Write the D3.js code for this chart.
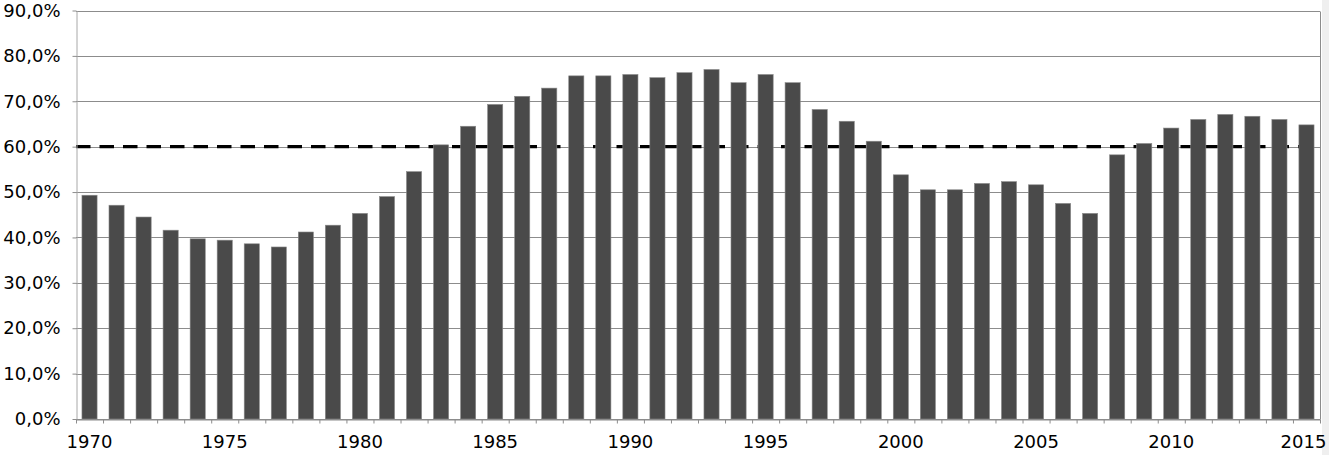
<!DOCTYPE html>
<html>
<head>
<meta charset="utf-8">
<script src="https://cdn.jsdelivr.net/npm/d3@7"></script>
<style>
  html, body { margin: 0; padding: 0; background: #ffffff; }
  svg { display: block; }
  text { font-family: "DejaVu Sans", Verdana, sans-serif; }
</style>
</head>
<body>
<div id="chart"></div>
<script>
const years = d3.range(1970, 2016);
const values = [
  49.3, 47.1, 44.5, 41.6, 39.7, 39.4, 38.6, 37.9, 41.2, 42.7,
  45.3, 49.0, 54.5, 60.4, 64.5, 69.3, 71.1, 72.9, 75.6, 75.6,
  75.9, 75.2, 76.3, 77.0, 74.1, 75.9, 74.1, 68.2, 65.6, 61.2,
  53.8, 50.5, 50.5, 51.9, 52.3, 51.6, 47.5, 45.3, 58.2, 60.7,
  64.1, 66.0, 67.1, 66.7, 66.0, 64.8
];
const yTicks = [0, 10, 20, 30, 40, 50, 60, 70, 80, 90];
const xLabelYears = [1970, 1975, 1980, 1985, 1990, 1995, 2000, 2005, 2010, 2015];
const referenceLevel = [60];

const W = 1329, H = 455;
const mLeft = 76, mRight = 1320, mTop = 10.5, mBottom = 419;
const FS = 18;

const svg = d3.select("#chart").append("svg")
  .attr("width", W).attr("height", H);

// light grey strip on the right edge
svg.append("rect").attr("x", 1322).attr("y", 0).attr("width", 7).attr("height", H)
  .attr("fill", "#efefef");

const x = d3.scaleBand().domain(years).range([mLeft, mRight])
  .paddingInner(0.44).paddingOuter(0.22);
const xIdx = d3.scaleLinear().domain([0, years.length]).range([mLeft, mRight]);
const y = d3.scaleLinear().domain([0, 90]).range([mBottom, mTop]);

// gridlines
svg.append("g").selectAll("line").data(yTicks).join("line")
  .attr("x1", mLeft).attr("x2", mRight)
  .attr("y1", d => Math.round(y(d)) + 0.5).attr("y2", d => Math.round(y(d)) + 0.5)
  .attr("stroke", "#8c8c8c").attr("stroke-width", 1);

// right border
svg.append("line").attr("x1", mRight + 0.5).attr("x2", mRight + 0.5)
  .attr("y1", Math.round(y(90)) + 0.5).attr("y2", mBottom + 0.5)
  .attr("stroke", "#8c8c8c");

// dashed reference line (behind bars)
svg.append("g").selectAll("line").data(referenceLevel).join("line")
  .attr("x1", mLeft).attr("x2", mRight)
  .attr("y1", d => y(d)).attr("y2", d => y(d))
  .attr("stroke", "#000").attr("stroke-width", 3.2)
  .attr("stroke-dasharray", "14.5,9");

// bars
svg.append("g").selectAll("rect").data(years).join("rect")
  .attr("x", d => x(d))
  .attr("width", x.bandwidth())
  .attr("y", (d, i) => y(values[i]))
  .attr("height", (d, i) => y(0) - y(values[i]))
  .attr("fill", "#4a4a4a")
  .attr("stroke", "#8a8a8a").attr("stroke-width", 0.6);

// y axis
const yAxis = svg.append("g").attr("transform", `translate(${mLeft + 0.5},0)`)
  .call(d3.axisLeft(y).tickValues(yTicks).tickSize(4).tickSizeOuter(0)
    .tickFormat(d => d3.format(".1f")(d).replace(".", ",") + "%"));
yAxis.select(".domain").attr("stroke", "#a8a8a8");
yAxis.selectAll(".tick line").attr("stroke", "#8c8c8c");
yAxis.selectAll(".tick text").attr("font-size", FS).attr("fill", "#000")
  .attr("x", -16).attr("font-family", "'DejaVu Sans', Verdana, sans-serif");

// x axis tick marks at band boundaries
const xTickG = svg.append("g").attr("transform", `translate(0,${mBottom + 0.5})`)
  .call(d3.axisBottom(xIdx).tickValues(d3.range(0, years.length + 1))
    .tickSize(4).tickSizeOuter(0).tickFormat(""));
xTickG.select(".domain").attr("stroke", "#8c8c8c");
xTickG.selectAll(".tick line").attr("stroke", "#8c8c8c");

// x labels
const xLab = svg.append("g").attr("transform", `translate(0,${mBottom})`)
  .call(d3.axisBottom(x).tickValues(xLabelYears).tickSize(0).tickPadding(16));
xLab.select(".domain").remove();
xLab.selectAll(".tick text").attr("font-size", FS).attr("fill", "#000")
  .attr("font-family", "'DejaVu Sans', Verdana, sans-serif");
xLab.selectAll(".tick").filter(d => d === 2015).select("text").attr("dx", -3);
</script>
</body>
</html>
